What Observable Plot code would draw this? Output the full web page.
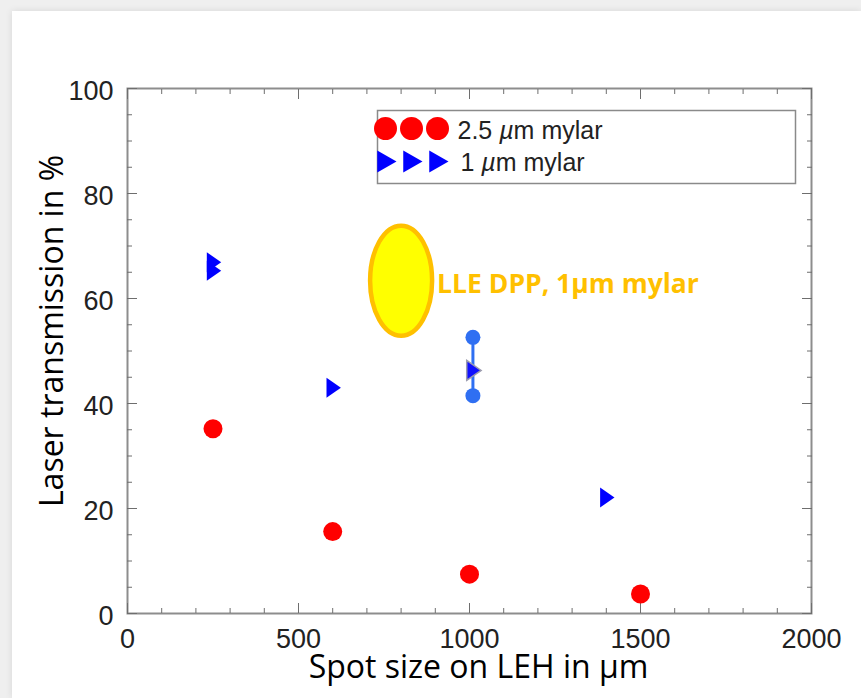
<!DOCTYPE html>
<html>
<head>
<meta charset="utf-8">
<script src="https://cdn.jsdelivr.net/npm/d3@7"></script>
<script src="https://cdn.jsdelivr.net/npm/@observablehq/plot@0.6"></script>
<style>
  html, body { margin: 0; padding: 0; }
  body { width: 861px; height: 698px; background: #efefef; position: relative; overflow: hidden; }
  #card { position: absolute; left: 12px; top: 11px; right: 0; bottom: 0; background: #fff;
          box-shadow: 0 0 7px rgba(0,0,0,0.10); }
  #chart { position: absolute; left: 0; top: 0; }
</style>
</head>
<body>
<div id="card"></div>
<div id="chart"></div>
<script>
// Laser transmission through mylar foils versus focal spot size on the LEH
const thickSpot = [250, 600, 1000, 1500];            // 2.5 µm mylar, spot size (µm)
const thickTransmission = [35.2, 15.6, 7.5, 3.7];    // transmission (%)
const thinSpot = [250, 250, 600, 1400];              // 1 µm mylar, spot size (µm)
const thinTransmission = [66.9, 65.3, 43.0, 22.1];   // transmission (%)

// 1 µm mylar shot at 1000 µm with its spread of measurements
const dppSpot = [1010];
const dppTransmission = [46.3];
const dppLow = [41.5];
const dppHigh = [52.6];

// Highlighted LLE DPP region
const lleSpot = [800];
const lleTransmission = [63.4];
const lleLabel = "LLE DPP, 1µm mylar";

const seriesLabels = ["2.5 µm mylar", "1 µm mylar"];
const xTicks = [0, 500, 1000, 1500, 2000];
const yTicks = [0, 20, 40, 60, 80, 100];
const xMinorTicks = d3.range(0, 2001, 100);
const yMinorTicks = d3.range(0, 101, 5);

const xTitle = "Spot size on LEH in µm";
const yTitle = "Laser transmission in %";

// Right-pointing triangle, sized from the dot radius
function triangleRight(back = 0.62, tip = 0.82) {
  return {
    draw(ctx, size) {
      const r = Math.sqrt(size / Math.PI);
      ctx.moveTo(-back * r, -r);
      ctx.lineTo(tip * r, 0);
      ctx.lineTo(-back * r, r);
      ctx.closePath();
    }
  };
}

// Upright ellipse drawn with four Bézier arcs
function ellipseSymbol(rx, ry) {
  const k = 0.5522847498;
  return {
    draw(ctx) {
      ctx.moveTo(rx, 0);
      ctx.bezierCurveTo(rx, k * ry, k * rx, ry, 0, ry);
      ctx.bezierCurveTo(-k * rx, ry, -rx, k * ry, -rx, 0);
      ctx.bezierCurveTo(-rx, -k * ry, -k * rx, -ry, 0, -ry);
      ctx.bezierCurveTo(k * rx, -ry, rx, -k * ry, rx, 0);
      ctx.closePath();
    }
  };
}

const thick = thickSpot.map((x, i) => ({x, y: thickTransmission[i]}));
const thin = thinSpot.map((x, i) => ({x, y: thinTransmission[i]}));
const dpp = dppSpot.map((x, i) => ({x, y: dppTransmission[i], lo: dppLow[i], hi: dppHigh[i]}));
const lle = lleSpot.map((x, i) => ({x, y: lleTransmission[i]}));

const red = "#ff0000";
const blue = "#0000ff";
const tickGray = "#6e6e6e";
const axisFont = "'Liberation Sans', Arial, Helvetica, sans-serif";
const titleFont = "'Open Sans', 'Noto Sans', sans-serif";

const legendMarks = [0, 1, 2].flatMap(i => [
  Plot.dot([0], {frameAnchor: "top-left", dx: 258 + 26 * i, dy: 40, r: 11.5, fill: red}),
  Plot.dot([0], {frameAnchor: "top-left", dx: 258 + 26 * i, dy: 73, r: 11, fill: blue,
                 symbol: triangleRight(0.75, 1.0)})
]);

const chart = Plot.plot({
  width: 861,
  height: 698,
  marginLeft: 127,
  marginRight: 50,
  marginTop: 88,
  marginBottom: 85,
  style: {background: "transparent", fontFamily: axisFont, color: "#222"},
  x: {domain: [0, 2000]},
  y: {domain: [0, 100]},
  marks: [
    // plot box with inward ticks on every side
    Plot.frame({stroke: "#8d8d8d", strokeWidth: 2}),
    Plot.axisX(xMinorTicks, {anchor: "bottom", tickSize: -5, stroke: tickGray, fill: "none", label: null}),
    Plot.axisX(xTicks, {anchor: "bottom", tickSize: -10, stroke: tickGray, fill: "none", label: null}),
    Plot.axisX(xMinorTicks, {anchor: "top", tickSize: -5, stroke: tickGray, fill: "none", label: null}),
    Plot.axisX(xTicks, {anchor: "top", tickSize: -10, stroke: tickGray, fill: "none", label: null}),
    Plot.axisY(yMinorTicks, {anchor: "left", tickSize: -5, stroke: tickGray, fill: "none", label: null}),
    Plot.axisY(yTicks, {anchor: "left", tickSize: -10, stroke: tickGray, fill: "none", label: null}),
    Plot.axisY(yMinorTicks, {anchor: "right", tickSize: -5, stroke: tickGray, fill: "none", label: null}),
    Plot.axisY(yTicks, {anchor: "right", tickSize: -10, stroke: tickGray, fill: "none", label: null}),
    // tick labels
    Plot.axisX(xTicks, {anchor: "bottom", tickSize: 0, tickPadding: 15, tickFormat: d => String(d),
                        fontSize: 27, fill: "#222", label: null}),
    Plot.axisY(yTicks, {anchor: "left", tickSize: 0, tickPadding: 14, tickFormat: d => String(d), dy: 3,
                        fontSize: 27, fill: "#222", label: null}),

    // axis titles
    Plot.text([yTitle], {frameAnchor: "left", dx: -75, dy: -20, rotate: -90, textAnchor: "middle",
                         lineAnchor: "middle", fontSize: 32, fontFamily: titleFont, fill: "#000"}),
    Plot.text([xTitle], {frameAnchor: "bottom", dx: 9, dy: 54, textAnchor: "middle",
                         lineAnchor: "middle", fontSize: 32, fontFamily: titleFont, fill: "#000"}),

    // legend
    Plot.frame({insetLeft: 250, insetRight: 16, insetTop: 22, insetBottom: 430,
                fill: "white", stroke: "#8a8a8a", strokeWidth: 1.5}),
    ...legendMarks,
    Plot.text([seriesLabels[0]], {frameAnchor: "top-left", dx: 330, dy: 42, textAnchor: "start",
                                  lineAnchor: "middle", fontSize: 25, fill: "#222"}),
    Plot.text([seriesLabels[1]], {frameAnchor: "top-left", dx: 333, dy: 74, textAnchor: "start",
                                  lineAnchor: "middle", fontSize: 25, fill: "#222"}),

    // data
    Plot.dot(thick, {x: "x", y: "y", r: 9.5, fill: red}),
    Plot.dot(thin, {x: "x", y: "y", r: 10, fill: blue, symbol: triangleRight()}),

    // LLE DPP annotation
    Plot.dot(lle, {x: "x", y: "y", symbol: ellipseSymbol(31, 55), fill: "#ffff00",
                   stroke: "#ffc000", strokeWidth: 4.5}),
    Plot.text(lle, {x: "x", y: "y", text: () => lleLabel, dx: 36, dy: 4, textAnchor: "start",
                    fontFamily: titleFont, fontWeight: "bold", fontSize: 26.5, fill: "#ffc000"}),

    // 1000 µm point with its measured range
    Plot.ruleX(dpp, {x: "x", y1: "lo", y2: "hi", stroke: "#2f6ff2", strokeWidth: 3}),
    Plot.dot(dpp, {x: "x", y: "lo", r: 7.5, fill: "#2f6ff2"}),
    Plot.dot(dpp, {x: "x", y: "hi", r: 7.5, fill: "#2f6ff2"}),
    Plot.dot(dpp, {x: "x", y: "y", r: 10, fill: "#1010ff", stroke: "#9c9cae", strokeWidth: 1.5,
                   symbol: triangleRight()})
  ]
});

// italic mu in the legend entries
d3.select(chart).selectAll("text")
  .filter(function () { return seriesLabels.includes(this.textContent); })
  .each(function () {
    const t = this.textContent;
    const i = t.indexOf("µ");
    const sel = d3.select(this);
    sel.text(null);
    sel.append("tspan").text(t.slice(0, i));
    sel.append("tspan").attr("font-style", "italic").text("µ");
    sel.append("tspan").text(t.slice(i + 1));
  });

document.getElementById("chart").append(chart);
</script>
</body>
</html>
